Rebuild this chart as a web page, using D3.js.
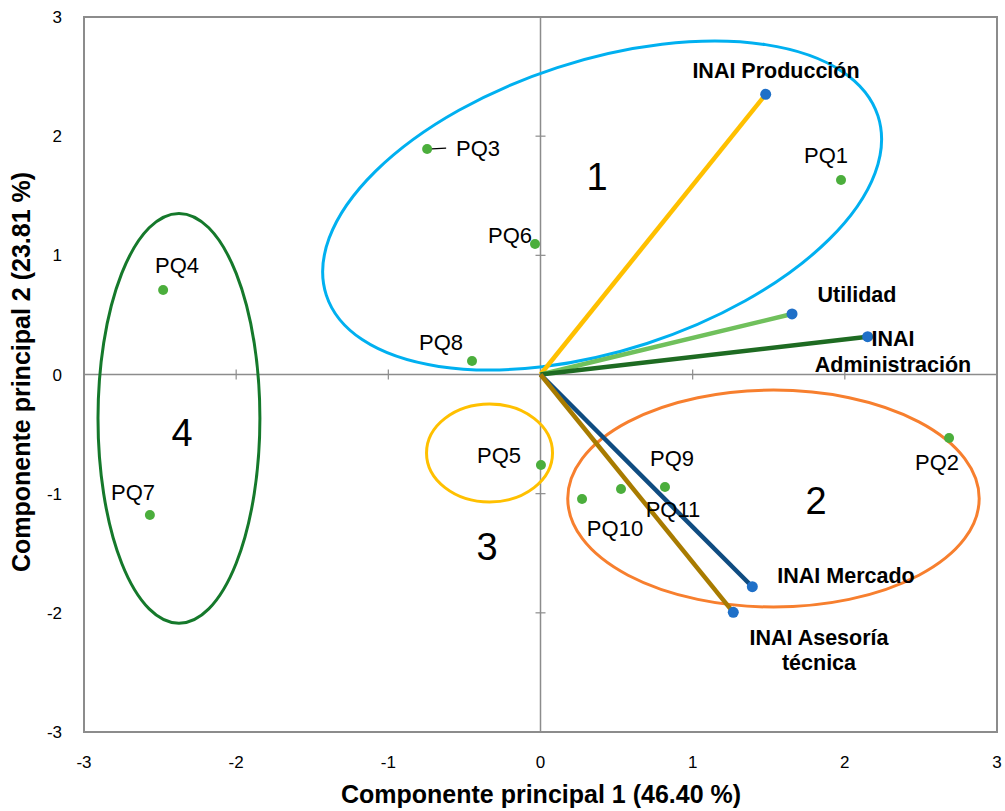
<!DOCTYPE html>
<html><head><meta charset="utf-8">
<script src="https://cdn.jsdelivr.net/npm/d3@7"></script>
<style>body{margin:0;background:#fff}svg{display:block}text{font-family:"Liberation Sans",Arial,sans-serif}</style>
</head><body><svg id="c" width="1005" height="811"></svg>
<script>
// ---- data ----
const pointNames = ["PQ1","PQ2","PQ3","PQ4","PQ5","PQ6","PQ7","PQ8","PQ9","PQ10","PQ11"];
const pointX = [1.975, 2.685, -0.745, -2.48, 0.003, -0.036, -2.567, -0.45, 0.818, 0.273, 0.529];
const pointY = [1.632, -0.533, 1.892, 0.709, -0.759, 1.095, -1.179, 0.113, -0.944, -1.045, -0.961];

const vectorNames = ["INAI Producción","Utilidad","INAI Administración","INAI Mercado","INAI Asesoría técnica"];
const vectorX = [1.480, 1.653, 2.150, 1.392, 1.267];
const vectorY = [2.351, 0.508, 0.317, -1.781, -1.996];

const groupNames = ["1","2","3","4"];
const groupCX = [0.405, 1.531, -0.335, -2.376];
const groupCY = [1.418, -1.041, -0.659, -0.368];
const groupRX = [1.906, 1.352, 0.414, 0.532];
const groupRY = [1.217, 0.910, 0.411, 1.720];

const xTicks = [-3,-2,-1,0,1,2,3];
const yTicks = [-3,-2,-1,0,1,2,3];
const xTitle = "Componente principal 1 (46.40 %)";
const yTitle = "Componente principal 2 (23.81 %)";

// ---- styles / layout ----
const vectorColors = ["#FFC000","#70C05C","#1E6B22","#0F4C81","#A87B00"];
const groupColors = ["#00B0F0","#F77F2E","#FFC000","#15792B"];
const groupRot = [-18, 0, 0, 0];
const groupNumPos = [[597,190],[816,514],[487,560],[182,446]];
const pointLabelPos = {PQ1:[826,163,"middle"],PQ2:[937,470,"middle"],PQ3:[456,156,"start"],PQ4:[177,273,"middle"],
  PQ5:[499,463,"middle"],PQ6:[510,243,"middle"],PQ7:[133,500,"middle"],PQ8:[441,350,"middle"],PQ9:[672,466,"middle"],
  PQ10:[615,536,"middle"],PQ11:[673,517,"middle"]};
const vectorLabelLines = [["INAI Producción"],["Utilidad"],["INAI","Administración"],["INAI Mercado"],["INAI Asesoría","técnica"]];
const vectorLabelPos = [[776,78,"middle"],[857,302,"middle"],[[893,346],[893,372]],[846,583,"middle"],[[819,645],[819,670]]];

const L=84,R=997,T=17,B=732;
const svg=d3.select("#c");
const x=d3.scaleLinear().domain([-3,3]).range([L,R]);
const y=d3.scaleLinear().domain([-3,3]).range([B,T]);

// zero axes
const g=svg.append("g");
g.append("line").attr("x1",x(0)).attr("x2",x(0)).attr("y1",T).attr("y2",B).attr("stroke","#8c8c8c").attr("stroke-width",1.5);
g.append("line").attr("x1",L).attr("x2",R).attr("y1",y(0)).attr("y2",y(0)).attr("stroke","#8c8c8c").attr("stroke-width",1.5);
yTicks.forEach(t=>{ if(t!==0 && t!==3 && t!==-3) g.append("line").attr("x1",x(0)-5).attr("x2",x(0)+5).attr("y1",y(t)).attr("y2",y(t)).attr("stroke","#8c8c8c").attr("stroke-width",1.2);});
xTicks.forEach(t=>{ if(t!==0 && t!==3 && t!==-3) g.append("line").attr("y1",y(0)-5).attr("y2",y(0)+5).attr("x1",x(t)).attr("x2",x(t)).attr("stroke","#8c8c8c").attr("stroke-width",1.2);});
g.append("line").attr("x1",x(0)-5).attr("x2",x(0)+5).attr("y1",y(0)).attr("y2",y(0)).attr("stroke","#8c8c8c");

// border
svg.append("rect").attr("x",L).attr("y",T).attr("width",R-L).attr("height",B-T).attr("fill","none").attr("stroke","#8c8c8c").attr("stroke-width",2);

// tick labels
svg.append("g").selectAll("text").data(yTicks).join("text").attr("x",62).attr("y",d=>y(d)+6).attr("text-anchor","end")
  .attr("font-size",17).attr("fill","#000").text(d=>d);
svg.append("g").selectAll("text").data(xTicks).join("text").attr("x",d=>x(d)).attr("y",768).attr("text-anchor","middle")
  .attr("font-size",17).attr("fill","#000").text(d=>d);

// axis titles
svg.append("text").attr("x",541).attr("y",803).attr("text-anchor","middle").attr("font-size",25).attr("font-weight","bold").text(xTitle);
svg.append("text").attr("transform",`translate(30,372) rotate(-90)`).attr("text-anchor","middle").attr("font-size",25).attr("font-weight","bold").text(yTitle);

// group ellipses
const kx=(R-L)/6, ky=(B-T)/6;
groupNames.forEach((n,i)=>{
  svg.append("ellipse").attr("transform",`translate(${x(groupCX[i])},${y(groupCY[i])}) rotate(${groupRot[i]})`)
    .attr("rx",groupRX[i]*kx).attr("ry",groupRY[i]*ky).attr("fill","none").attr("stroke",groupColors[i]).attr("stroke-width",3);
  svg.append("text").attr("x",groupNumPos[i][0]).attr("y",groupNumPos[i][1]).attr("text-anchor","middle").attr("font-size",38).text(n);
});

// vectors
vectorNames.forEach((n,i)=>{
  svg.append("line").attr("x1",x(0)).attr("y1",y(0)).attr("x2",x(vectorX[i])).attr("y2",y(vectorY[i]))
    .attr("stroke",vectorColors[i]).attr("stroke-width",4.5);
});
vectorNames.forEach((n,i)=>{
  svg.append("circle").attr("cx",x(vectorX[i])).attr("cy",y(vectorY[i])).attr("r",5.5).attr("fill","#1F70C8");
});
vectorNames.forEach((n,i)=>{
  const lines=vectorLabelLines[i], p=vectorLabelPos[i];
  lines.forEach((ln,j)=>{
    const pos = lines.length>1 ? p[j] : p;
    svg.append("text").attr("x",pos[0]).attr("y",pos[1]).attr("text-anchor","middle").attr("font-size",21.5).attr("font-weight","bold").text(ln);
  });
});

// PQ3 leader line
svg.append("line").attr("x1",x(pointX[2])).attr("y1",y(pointY[2])).attr("x2",x(pointX[2])+19).attr("y2",y(pointY[2])-1).attr("stroke","#000").attr("stroke-width",1.2);

// points
pointNames.forEach((n,i)=>{
  svg.append("circle").attr("cx",x(pointX[i])).attr("cy",y(pointY[i])).attr("r",5).attr("fill","#4BAE3C");
  const p=pointLabelPos[n];
  svg.append("text").attr("x",p[0]).attr("y",p[1]).attr("text-anchor",p[2]).attr("font-size",22).attr("fill","#000").text(n);
});
</script></body></html>
